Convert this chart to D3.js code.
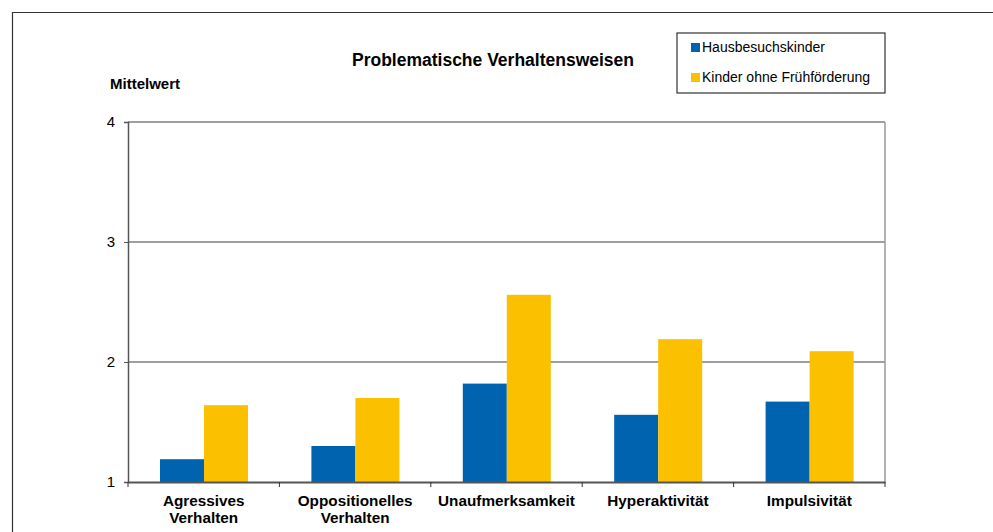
<!DOCTYPE html>
<html>
<head>
  <meta charset="utf-8">
  <title>Problematische Verhaltensweisen</title>
  <script src="https://d3js.org/d3.v7.min.js"></script>
  <style>
    body { margin: 0; background: #fff; }
    text { font-family: "Liberation Sans", Arial, sans-serif; fill: #000; }
  </style>
</head>
<body>
  <div id="chart"></div>

  <script>
    // Data
    const categories = [
      ["Agressives", "Verhalten"],
      ["Oppositionelles", "Verhalten"],
      ["Unaufmerksamkeit"],
      ["Hyperaktivität"],
      ["Impulsivität"]
    ];
    const seriesNames = ["Hausbesuchskinder", "Kinder ohne Frühförderung"];
    const hausbesuch = [1.19, 1.30, 1.82, 1.56, 1.67];
    const ohneFoerderung = [1.64, 1.70, 2.56, 2.19, 2.09];
    const yTicks = [1, 2, 3, 4];

    const colors = ["#0063AF", "#FBC000"];

    const W = 993, H = 532;
    const margin = { top: 122, right: 108, bottom: 50, left: 128 };
    const width = W - margin.left - margin.right,
          height = H - margin.top - margin.bottom;

    const svg = d3.select("#chart")
      .append("svg")
      .attr("width", W)
      .attr("height", H);

    // outer frame (right side runs off the picture)
    svg.append("path")
      .attr("d", "M12.5," + (H + 2) + "V12.5H" + (W + 2))
      .attr("fill", "none")
      .attr("stroke", "#333")
      .attr("stroke-width", 1.2);

    const g = svg.append("g")
      .attr("transform", "translate(" + margin.left + "," + margin.top + ")");

    const keys = categories.map((c, i) => i);

    const x = d3.scaleBand()
      .domain(keys)
      .range([0, width])
      .paddingInner(0)
      .paddingOuter(0);

    const x1 = d3.scaleBand()
      .domain([0, 1])
      .range([32, 32 + 88]);

    const y = d3.scaleLinear()
      .domain([1, 4])
      .range([height, 0]);

    // gridlines
    g.selectAll(".grid")
      .data(yTicks.filter(t => t > 1))
      .enter()
      .append("line")
      .attr("x1", 0)
      .attr("x2", width)
      .attr("y1", d => y(d))
      .attr("y2", d => y(d))
      .attr("stroke", "#7f7f7f")
      .attr("stroke-width", 1.5);

    // right border of plot area
    g.append("line")
      .attr("x1", width).attr("x2", width)
      .attr("y1", 0).attr("y2", height)
      .attr("stroke", "#9a9a9a")
      .attr("stroke-width", 1.5);

    // bars
    const series = [hausbesuch, ohneFoerderung];
    series.forEach((vals, s) => {
      g.selectAll(".bar" + s)
        .data(vals)
        .enter()
        .append("rect")
        .attr("x", (d, i) => x(i) + x1(s))
        .attr("width", x1.bandwidth())
        .attr("y", d => y(d))
        .attr("height", d => y(1) - y(d))
        .attr("fill", colors[s]);
    });

    // y axis
    const yAxis = g.append("g")
      .call(d3.axisLeft(y).tickValues(yTicks).tickFormat(d3.format("d")).tickSize(4).tickPadding(9));
    yAxis.select(".domain").attr("stroke", "#555").attr("stroke-width", 1.5);
    yAxis.selectAll(".tick line").attr("stroke", "#555");
    yAxis.selectAll(".tick text")
      .style("font-size", "15px")
      .style("font-family", "'Liberation Sans', Arial, sans-serif");

    // x axis
    const xAxis = g.append("g")
      .attr("transform", "translate(0," + height + ")")
      .call(d3.axisBottom(x).tickSize(0).tickFormat(""));
    xAxis.select(".domain").attr("stroke", "#555").attr("stroke-width", 1.8);
    xAxis.selectAll(".tick").remove();

    // category separators
    g.selectAll(".sep")
      .data(d3.range(keys.length + 1))
      .enter()
      .append("line")
      .attr("x1", d => d * x.step())
      .attr("x2", d => d * x.step())
      .attr("y1", height)
      .attr("y2", height + 5)
      .attr("stroke", "#333");

    // category labels
    const lab = g.selectAll(".cat")
      .data(categories)
      .enter()
      .append("text")
      .attr("text-anchor", "middle")
      .attr("x", (d, i) => x(i) + x.bandwidth() / 2)
      .attr("y", height + 24)
      .style("font-size", "15.3px")
      .style("font-weight", "bold");
    lab.selectAll("tspan")
      .data(d => d)
      .enter()
      .append("tspan")
      .attr("x", function () { return d3.select(this.parentNode).attr("x"); })
      .attr("dy", (d, i) => i === 0 ? 0 : 17)
      .text(d => d);

    // title
    svg.append("text")
      .attr("x", 493)
      .attr("y", 66)
      .attr("text-anchor", "middle")
      .style("font-size", "17.5px")
      .style("font-weight", "bold")
      .text("Problematische Verhaltensweisen");

    // y label
    svg.append("text")
      .attr("x", 110)
      .attr("y", 89)
      .style("font-size", "15px")
      .style("font-weight", "bold")
      .text("Mittelwert");

    // legend
    const leg = svg.append("g").attr("transform", "translate(677,33)");
    leg.append("rect")
      .attr("width", 208)
      .attr("height", 60)
      .attr("fill", "#fff")
      .attr("stroke", "#333")
      .attr("stroke-width", 1.2);
    seriesNames.forEach((n, i) => {
      leg.append("rect")
        .attr("x", 14)
        .attr("y", 10 + i * 30)
        .attr("width", 9)
        .attr("height", 9)
        .attr("fill", colors[i]);
      leg.append("text")
        .attr("x", 25)
        .attr("y", 19 + i * 30)
        .style("font-size", "14px")
        .text(n);
    });
  </script>
</body>
</html>
